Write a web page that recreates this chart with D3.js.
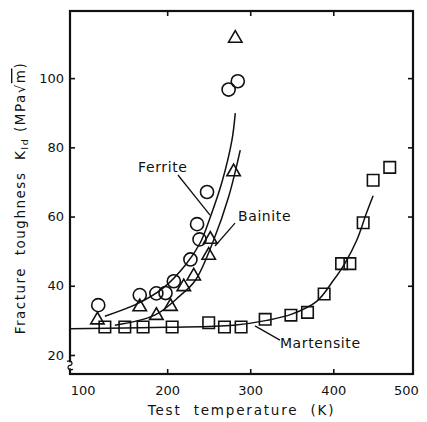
<!DOCTYPE html>
<html>
<head>
<meta charset="utf-8">
<script src="https://cdn.jsdelivr.net/npm/d3@7"></script>
<style>
  html, body { margin: 0; padding: 0; background: #fff; }
  svg { display: block; font-family: 'DejaVu Sans', sans-serif; }
</style>
</head>
<body>
<svg id="chart" width="427" height="422"></svg>
<script>
// data (K, MPa*m^0.5)
const ferrite = [[117, 34.4], [167, 37.3], [187, 37.8], [198, 37.9], [208, 41.3], [228, 47.6],
  [239, 53.4], [236, 57.8], [248, 67.1], [274, 96.7], [285, 99.1]];
const bainite = [[116, 30.1], [167, 33.9], [187, 31.4], [204, 34.0], [220, 39.7], [232, 42.8],
  [250, 48.8], [252, 53.4], [280, 72.9], [282, 111.5]];
const martensite = [[125, 28.1], [149, 28.1], [171, 28.1], [206, 28.1], [250, 29.3], [269, 28.1],
  [289, 28.1], [318, 30.3], [349, 31.5], [369, 32.3], [389, 37.6], [410, 46.4], [420, 46.4],
  [436, 58.2], [448, 70.5], [468, 74.2]];

// fitted curves as drawn
const ferriteCurve = [[125, 31.2], [165, 34.9], [195, 39.3], [222, 46], [240, 52.5], [252, 59.9],
  [266, 70], [278, 82.1], [282, 89.9]];
const bainiteCurve = [[137, 28.6], [185, 31.5], [215, 37], [234, 41.6], [256, 53.2], [274, 65.7],
  [288, 79.2]];
const martensiteCurve = [[83, 27.6], [200, 28], [280, 28.6], [320, 30], [350, 31.8], [380, 35.5],
  [400, 41.5], [414, 46.5], [428, 53], [440, 61], [448, 66]];

const xTicks = [100, 200, 300, 400, 500];
const yTicks = [20, 40, 60, 80, 100];

// labels with leader lines (data units)
const labels = [
  { text: 'Ferrite', at: [165, 72.9], from: [213, 72.0], to: [251.6, 60.4] },
  { text: 'Bainite', at: [285.3, 58.7], from: [281.7, 58.1], to: [257.6, 51.5] },
  { text: 'Martensite', at: [335.8, 22.0], from: [305.7, 28.4], to: [335.8, 24.3] }
];

const frame = { left: 70, top: 11, right: 413, bottom: 374 };
const ink = '#111111';

const svg = d3.select('#chart');

const x = d3.scaleLinear().domain([83, 496]).range([frame.left, frame.right]);
const y = d3.scaleLinear().domain([14.5, 119.4]).range([frame.bottom, frame.top]);

// axes (inward ticks)
const inner = xTicks.filter(d => d > 100 && d < 500);
const ends = xTicks.filter(d => !inner.includes(d));

svg.append('g')
  .attr('transform', `translate(0,${frame.bottom})`)
  .call(d3.axisBottom(x).tickValues(inner).tickSizeInner(-5).tickSizeOuter(0).tickPadding(12));

svg.append('g')
  .attr('transform', `translate(0,${frame.top})`)
  .call(d3.axisTop(x).tickValues(inner).tickSizeInner(-5).tickSizeOuter(0).tickFormat(''));

svg.append('g')
  .attr('transform', `translate(${frame.left},0)`)
  .call(d3.axisLeft(y).tickValues(yTicks).tickSizeInner(-5).tickSizeOuter(0).tickPadding(6));

svg.append('g')
  .attr('transform', `translate(${frame.right},0)`)
  .call(d3.axisRight(y).tickValues(yTicks.filter(d => d >= 40)).tickSizeInner(-5).tickSizeOuter(0).tickFormat(''));

svg.selectAll('.domain').remove();
svg.selectAll('.tick line').attr('stroke', ink).attr('stroke-width', 1.6);
svg.selectAll('.tick text')
  .attr('fill', ink)
  .style('font-size', '13px')
  .style('font-family', "'DejaVu Sans', sans-serif");

// end labels of the temperature axis sit on the frame corners
svg.append('g').selectAll('text')
  .data(ends)
  .enter()
  .append('text')
  .attr('x', d => x(d) + (d === 500 ? -10 : -1))
  .attr('y', frame.bottom + 21)
  .attr('text-anchor', 'middle')
  .attr('fill', ink)
  .style('font-size', '13px')
  .text(d => String(d));

// frame
svg.append('rect')
  .attr('x', frame.left)
  .attr('y', frame.top)
  .attr('width', frame.right - frame.left)
  .attr('height', frame.bottom - frame.top)
  .attr('fill', 'none')
  .attr('stroke', ink)
  .attr('stroke-width', 2.2);

// broken axis mark
const by = y(17);
svg.append('rect')
  .attr('x', frame.left - 3).attr('y', by - 3)
  .attr('width', 6).attr('height', 6)
  .attr('fill', '#fff');
svg.append('path')
  .attr('d', `M${frame.left - 3},${by - 4} C${frame.left + 3},${by - 6} ${frame.left + 3},${by} ${frame.left},${by}
    C${frame.left - 3},${by} ${frame.left - 3},${by + 6} ${frame.left + 3},${by + 4}`)
  .attr('fill', 'none')
  .attr('stroke', ink)
  .attr('stroke-width', 1.3);

// curves
const line = d3.line()
  .x(d => x(d[0]))
  .y(d => y(d[1]))
  .curve(d3.curveCatmullRom);

for (const c of [ferriteCurve, bainiteCurve, martensiteCurve]) {
  svg.append('path')
    .attr('d', line(c))
    .attr('fill', 'none')
    .attr('stroke', ink)
    .attr('stroke-width', 1.5);
}

// markers
const series = [
  { data: ferrite, type: d3.symbolCircle, size: 135 },
  { data: bainite, type: d3.symbolTriangle, size: 78 },
  { data: martensite, type: d3.symbolSquare, size: 132 }
];
for (const s of series) {
  svg.append('g').selectAll('path')
    .data(s.data)
    .enter()
    .append('path')
    .attr('transform', d => `translate(${x(d[0])},${y(d[1])})`)
    .attr('d', d3.symbol().type(s.type).size(s.size))
    .attr('fill', 'none')
    .attr('stroke', ink)
    .attr('stroke-width', 1.6);
}

// labels
for (const l of labels) {
  svg.append('line')
    .attr('x1', x(l.from[0])).attr('y1', y(l.from[1]))
    .attr('x2', x(l.to[0])).attr('y2', y(l.to[1]))
    .attr('stroke', ink)
    .attr('stroke-width', 1.3);
  svg.append('text')
    .attr('x', x(l.at[0]))
    .attr('y', y(l.at[1]))
    .attr('fill', ink)
    .style('font-size', '14px')
    .style('letter-spacing', '0.6px')
    .text(l.text);
}

// axis titles
svg.append('text')
  .attr('x', (frame.left + frame.right) / 2)
  .attr('y', 415)
  .attr('text-anchor', 'middle')
  .attr('fill', ink)
  .style('font-size', '13.5px')
  .style('letter-spacing', '1.8px')
  .style('white-space', 'pre')
  .text('Test  temperature  (K)');

const yt = svg.append('text')
  .attr('transform', `translate(25,198) rotate(-90)`)
  .attr('text-anchor', 'middle')
  .attr('fill', ink)
  .style('font-size', '13.5px')
  .style('letter-spacing', '1.5px')
  .style('white-space', 'pre');
yt.append('tspan').text('Fracture  toughness  K');
yt.append('tspan').attr('dy', 3).style('font-size', '9.5px').text('Id');
yt.append('tspan').attr('dy', -3).text(' (MPa√');
yt.append('tspan').style('text-decoration', 'overline').text('m');
yt.append('tspan').text(')');
</script>
</body>
</html>
